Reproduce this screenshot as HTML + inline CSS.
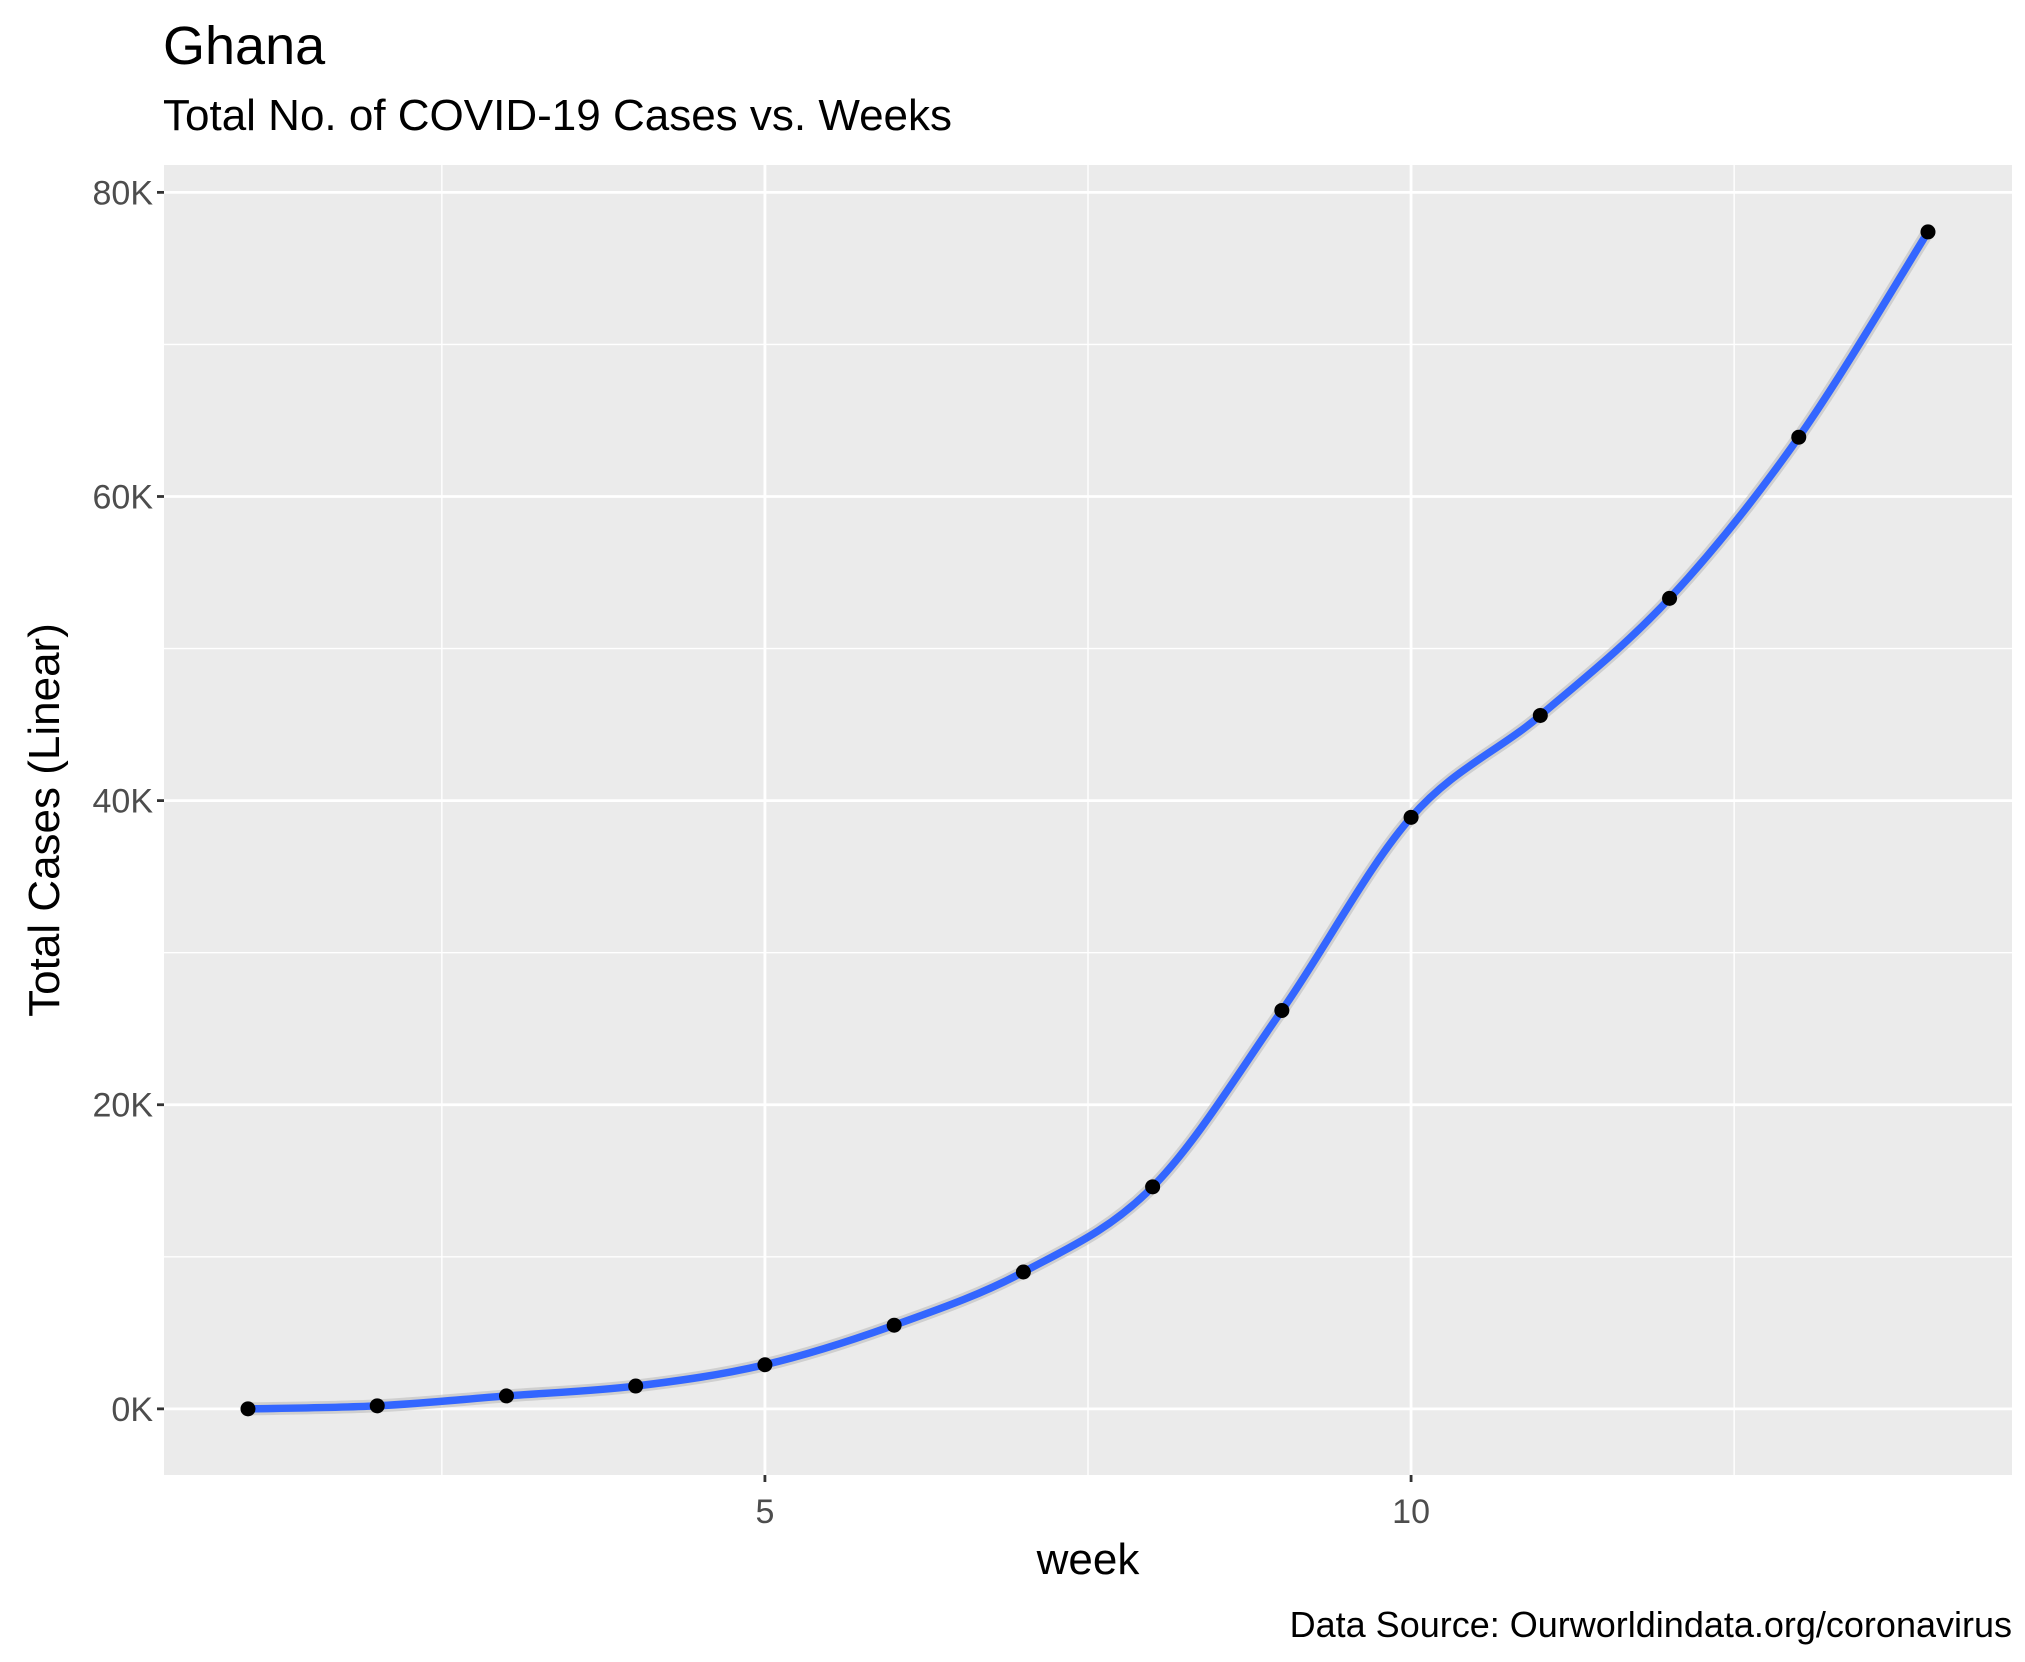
<!DOCTYPE html>
<html><head><meta charset="utf-8"><style>
html,body{margin:0;padding:0;background:#fff;}
svg{display:block;font-family:"Liberation Sans",Arial,sans-serif;}
</style></head><body>
<svg id="chart" width="2025" height="1662" viewBox="0 0 2025 1662">
<text x="163" y="64" font-size="54" fill="#000">Ghana</text>
<text x="163" y="130" font-size="44" fill="#000">Total No. of COVID-19 Cases vs. Weeks</text>
<rect x="164" y="165" width="1848" height="1310" fill="#ebebeb"/>
<g id="grid"></g>
<g id="axes"></g>
<g id="series"></g>
<text transform="translate(59,820) rotate(-90)" text-anchor="middle" font-size="44" fill="#000">Total Cases (Linear)</text>
<text x="1088" y="1574" text-anchor="middle" font-size="44" fill="#000">week</text>
<text x="2012" y="1637" text-anchor="end" font-size="36" fill="#000">Data Source: Ourworldindata.org/coronavirus</text>
</svg>
<script>
const weeks = [1,2,3,4,5,6,7,8,9,10,11,12,13,14];
const cases = [0,200,850,1500,2900,5500,9000,14600,26200,38900,45600,53300,63900,77400];
const xTicks = [5,10];
const xMinor = [2.5,7.5,12.5];
const yTicks = [0,20000,40000,60000,80000];
const yTickLabels = ["0K","20K","40K","60K","80K"];
const yMinor = [10000,30000,50000,70000];

const P={l:164,r:2012,t:165,b:1475};
const xDom=[0.35,14.65], yDom=[-4350,81800];
const X=v=>P.l+(v-xDom[0])/(xDom[1]-xDom[0])*(P.r-P.l);
const Y=v=>P.b-(v-yDom[0])/(yDom[1]-yDom[0])*(P.b-P.t);
const NS="http://www.w3.org/2000/svg";
function mk(tag,attrs,parent){const e=document.createElementNS(NS,tag);for(const k in attrs)e.setAttribute(k,attrs[k]);parent.appendChild(e);return e;}
const grid=document.getElementById('grid'),axes=document.getElementById('axes'),series=document.getElementById('series');

yMinor.forEach(v=>{const l=mk('line',{x1:P.l,x2:P.r,y1:Y(v),y2:Y(v),stroke:'#fff','stroke-width':1.4},grid);

});
xMinor.forEach(v=>{const l=mk('line',{x1:X(v),x2:X(v),y1:P.t,y2:P.b,stroke:'#fff','stroke-width':1.4},grid);

});
yTicks.forEach((v,i)=>{const l=mk('line',{x1:P.l,x2:P.r,y1:Y(v),y2:Y(v),stroke:'#fff','stroke-width':2.8},grid);


const t=mk('line',{x1:P.l-7,x2:P.l,y1:Y(v),y2:Y(v),stroke:'#333','stroke-width':2.8},axes);


const tx=mk('text',{x:P.l-11,y:Y(v)+12,'text-anchor':'end','font-size':34,fill:'#4d4d4d'},axes);
tx.textContent=yTickLabels[i];

});
xTicks.forEach(v=>{const l=mk('line',{x1:X(v),x2:X(v),y1:P.t,y2:P.b,stroke:'#fff','stroke-width':2.8},grid);


const t=mk('line',{x1:X(v),x2:X(v),y1:P.b,y2:P.b+7,stroke:'#333','stroke-width':2.8},axes);


const tx=mk('text',{x:X(v),y:P.b+48,'text-anchor':'middle','font-size':34,fill:'#4d4d4d'},axes);
tx.textContent=String(v);

});

const pts=weeks.map((w,i)=>[X(w),Y(cases[i])]);
let d='M'+pts[0][0]+','+pts[0][1];
for(let i=0;i<pts.length-1;i++){const p0=pts[Math.max(0,i-1)],p1=pts[i],p2=pts[i+1],p3=pts[Math.min(pts.length-1,i+2)];
const c1=[p1[0]+(p2[0]-p0[0])/6,p1[1]+(p2[1]-p0[1])/6],c2=[p2[0]-(p3[0]-p1[0])/6,p2[1]-(p3[1]-p1[1])/6];
d+=' C'+c1.join(',')+' '+c2.join(',')+' '+p2.join(',');}
const band=mk('path',{d:d,fill:'none',stroke:'#bdbdbd','stroke-width':13,'stroke-opacity':0.6},series);


const line=mk('path',{d:d,fill:'none',stroke:'#3366ff','stroke-width':7.5,'stroke-linecap':'butt'},series);


weeks.forEach((w,i)=>{const c=mk('circle',{cx:pts[i][0],cy:pts[i][1],r:7.5,fill:'#000'},series);

});
</script>
</body></html>
